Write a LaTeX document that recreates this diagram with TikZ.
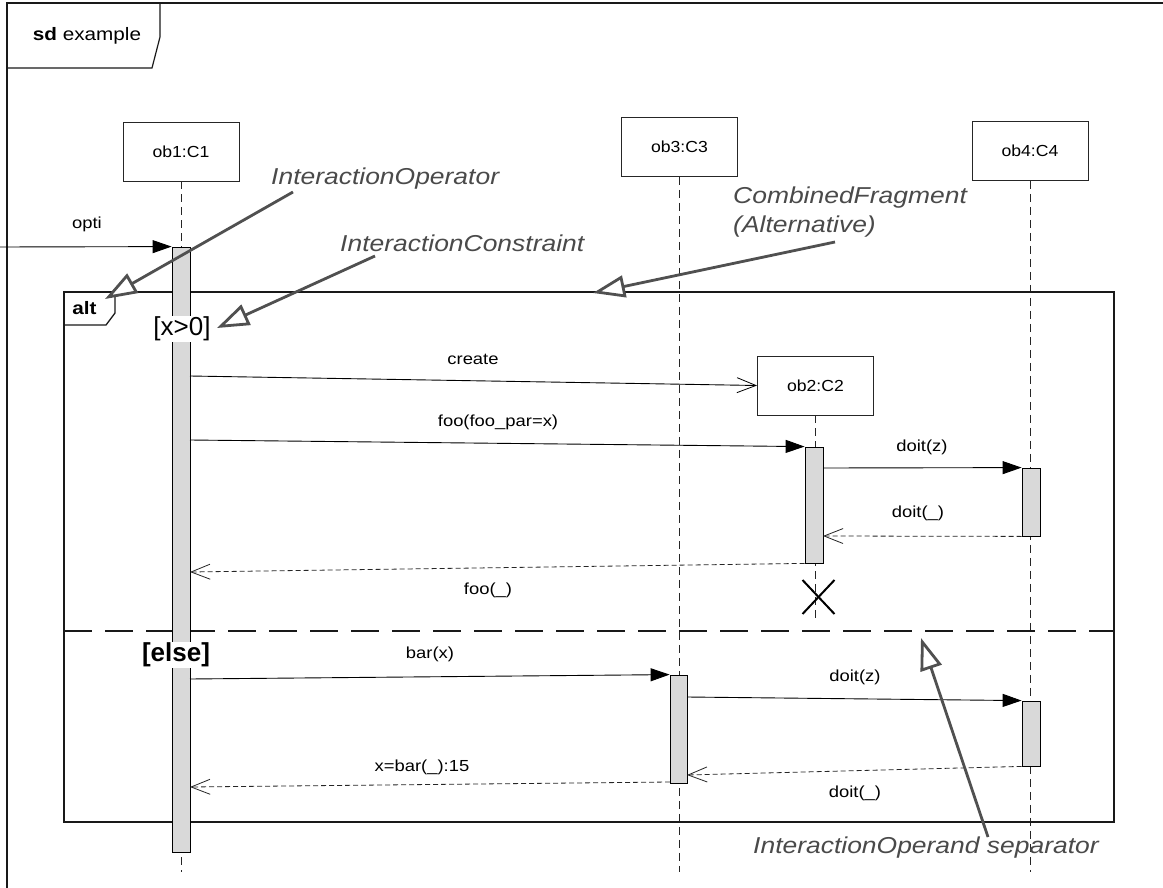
\documentclass[tikz,border=0pt]{standalone}
\usepackage{fontspec}
\setmainfont{Liberation Sans}
\newfontfamily\msgfnt{Liberation Sans}[FakeStretch=1.15]
\newfontfamily\objfnt{Liberation Sans}[FakeStretch=1.1]
\usetikzlibrary{arrows.meta,calc}
\definecolor{notegray}{HTML}{505050}
\definecolor{notetext}{HTML}{4A4A4A}
\tikzset{
  frame/.style={draw=black!90, line width=1.2pt},
  objbox/.style={draw=black!85, line width=0.9pt, fill=white, minimum width=116pt, minimum height=59pt, inner sep=0pt, font=\objfnt\fontsize{16}{19}\selectfont},
  lifeline/.style={draw=black!85, line width=0.8pt, dash pattern=on 8pt off 5pt},
  act/.style={draw=black, line width=0.8pt, fill=gray!30, minimum width=18pt, inner sep=0pt},
  msg/.style={draw=black, line width=0.9pt, -{Triangle[length=19pt,width=13pt]}},
  createmsg/.style={draw=black, line width=0.9pt, -{Straight Barb[length=19pt,width=15pt,line width=0.8pt]}},
  reply/.style={draw=black!85, line width=0.8pt, dash pattern=on 5pt off 3pt, -{Straight Barb[length=19pt,width=15pt,line width=0.8pt]}},
  mlabel/.style={font=\msgfnt\fontsize{16}{19}\selectfont, inner sep=1pt},
  note/.style={font=\msgfnt\itshape\fontsize{23}{27}\selectfont, text=notetext, inner sep=0pt},
  notearrow/.style={draw=notegray, line width=2.8pt, -{Triangle[open,length=32pt,width=22pt,fill=white]}},
  guard/.style={fill=white, inner sep=1pt, font=\fontsize{26}{30}\selectfont},
  fragline/.style={draw=black!90, line width=1.3pt},
  sepline/.style={draw=black!90, line width=1.3pt, dash pattern=on 28pt off 13pt}
}
\begin{document}
\begin{tikzpicture}[x=1pt,y=-1pt]
\useasboundingbox (0,0) rectangle (1163,888);
\fill[white] (0,0) rectangle (1163,888);

% outer frame
\draw[frame] (7,900) -- (7,3) -- (1175,3);
\draw[frame] (7,68) -- (152,68) -- (160,37) -- (160,3);
\node[font=\msgfnt\fontsize{18}{21}\selectfont] (sd) at (87,36) {\textbf{sd} example};

% lifeline heads
\node[objbox] (ob1) at (181,151.5) {ob1:C1};
\node[objbox] (ob3) at (679.5,147) {ob3:C3};
\node[objbox] (ob4) at (1030,151) {ob4:C4};
\node[objbox] (ob2) at (815.5,385.5) {ob2:C2};

% lifeline ends
\coordinate (e1) at (181,872);
\coordinate (e3) at (679.5,872);
\coordinate (e4) at (1030,872);
\coordinate (e2) at (815.5,622);
\draw[lifeline] (ob1.south) -- (e1);
\draw[lifeline] (ob3.south) -- (e3);
\draw[lifeline] (ob4.south) -- (e4);
\draw[lifeline] (ob2.south) -- (e2);

% combined fragment
\draw[fragline] (64,292) rectangle (1114,822);
\draw[fragline] (64,325) -- (106,325) -- (115,313) -- (115,292);
\node[font=\msgfnt\bfseries\fontsize{18}{21}\selectfont] (alt) at (84.5,308) {alt};
\draw[sepline] (64,631) -- (1114,631);

% activations
\node[act, minimum height=605pt] (a1) at (181,549.5) {};
\node[act, minimum height=116pt] (a2) at (814,505) {};
\node[act, minimum height=68pt] (a4) at (1031,502) {};
\node[act, minimum height=108pt, minimum width=17pt] (a3) at (678.5,729) {};
\node[act, minimum height=65pt] (a5) at (1031,733.5) {};

% guards
\node[guard] (g1) at (182,329) {[x>0]};
\node[guard, font=\bfseries\fontsize{26}{30}\selectfont] (g2) at (176,655) {[else]};

% messages
\coordinate (opS) at (-2,247);
\draw[msg] (opS) -- (a1.north west);
\node[mlabel] (lopti) at (87,224) {opti};

\coordinate (cS) at (190,376);
\draw[createmsg] (cS) -- (ob2.west);
\node[mlabel] (lcreate) at (473,359) {create};

\coordinate (fS) at (190,440);
\draw[msg] (fS) -- (a2.north west);
\node[mlabel] (lfoo) at (498,422) {foo(foo\_par=x)};

\coordinate (d1S) at (823,468);
\draw[msg] (d1S) -- (a4.north west);
\node[mlabel] (ld1) at (922,447) {doit(z)};

\coordinate (r1E) at (823,536);
\draw[reply] (a4.south west) -- (r1E);
\node[mlabel] (lr1) at (918,513) {doit(\_)};

\coordinate (r2E) at (190,572);
\draw[reply] (a2.south west) -- (r2E);
\node[mlabel] (lr2) at (488,590) {foo(\_)};

\coordinate (bS) at (190,679);
\draw[msg] (bS) -- (a3.north west);
\node[mlabel] (lbar) at (430,654) {bar(x)};

\coordinate (d2S) at (687,697);
\draw[msg] (d2S) -- (a5.north west);
\node[mlabel] (ld2) at (855,677) {doit(z)};

\coordinate (r3E) at (687,775);
\draw[reply] (a5.south west) -- (r3E);
\node[mlabel] (lr3) at (855,793) {doit(\_)};

\coordinate (r4S) at (670,782);
\coordinate (r4E) at (190,787);
\draw[reply] (r4S) -- (r4E);
\node[mlabel] (lr4) at (422,767) {x=bar(\_):15};

% destruction
\coordinate (xc) at (818.5,597);
\draw[line width=2pt] ($(xc)+(-16,-17)$) -- ($(xc)+(16,17)$);
\draw[line width=2pt] ($(xc)+(-16,17)$) -- ($(xc)+(16,-17)$);

% annotations
\node[note, anchor=west] (nOp) at (271,179) {InteractionOperator};
\node[note, anchor=west] (nCon) at (340,243) {InteractionConstraint};
\node[note, anchor=west, align=left] (nCF) at (733,212) {CombinedFragment\\[2pt](Alternative)};
\node[note, anchor=west] (nSep) at (753,848) {InteractionOperand separator};

\coordinate (tOp) at (105,299);
\coordinate (sOp) at (293,192);
\draw[notearrow] (sOp) -- (tOp);
\coordinate (tCon) at (217,328);
\coordinate (sCon) at (375,256);
\draw[notearrow] (sCon) -- (tCon);
\coordinate (tCF) at (593,293);
\coordinate (sCF) at (835,242);
\draw[notearrow] (sCF) -- (tCF);
\coordinate (tSep) at (921,638);
\coordinate (sSep) at (988,837);
\draw[notearrow] (sSep) -- (tSep);
\end{tikzpicture}
\end{document}
